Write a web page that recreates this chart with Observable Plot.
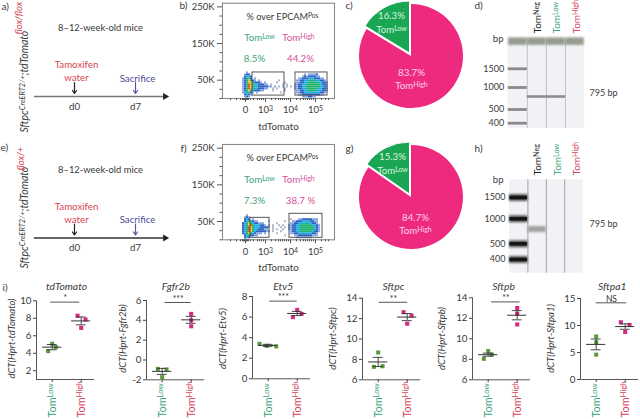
<!DOCTYPE html>
<html><head><meta charset="utf-8">
<script src="https://cdn.jsdelivr.net/npm/d3@7"></script>
<script src="https://cdn.jsdelivr.net/npm/@observablehq/plot@0.6"></script>
<style>
html,body{margin:0;padding:0;background:#fff}
#fig{position:relative;width:640px;height:419px;overflow:hidden}
#fig svg{position:absolute;overflow:visible;max-width:none}
</style></head><body><div id="fig"></div>
<script>
// ---------- data ----------
const panelLetters = ["a)","b)","c)","d)","e)","f)","g)","h)","i)"];
const days = [0, 7];
const dayLabels = ["d0", "d7"];
const flowMajorChannels = [23, 43, 68, 93];
const flowMajorLabels = ["0", "10^{3}", "10^{4}", "10^{5}"];
const flowMinorChannels = [8,14,18,20,21,22,24,25,26,28,31,35,37,39,41,49,53,56,58,60,62,64,66,74,78,81,83,85,87,89,91,99,103,106];
const flowGatesB = [{x1:30,x2:62,y1:8,y2:71},{x1:73,x2:105,y1:8,y2:71}];
const flowGatesF = [{x1:28,x2:47,y1:5.5,y2:60},{x1:67,x2:100,y1:5.5,y2:71}];
// Density, one character per 2px bin (. empty, 0 stray events, 1-6 blue to red)
const densityB = [
"............................."+".................",
"....1......................."+".................",
"...122......................"+".....1.11112.....",
"...2332....................."+"....121222211....",
"..12432.1..................."+"..1122233322211..",
"..1245421.1.........0......."+".112233344333221.",
"..1245542221.1.....0...0...."+".1122334444433221",
"..1246543322211.0.....0.0..."+"11223344444443221",
"..124654332222211.1.0.0.0.0."+"11223344444443321",
"..1246543322211..0.0...0...."+"11223344444433221",
"..12454322211....0.....0...."+".1122334444333221",
"..134321.1...........0......"+".112233333333221.",
"...2321....................."+"..1122222222211..",
"...121......................"+"....1112211......"
];
const densityF = [
".............................................",
"....1........................................",
"...121.......................................",
"...232.1..................0...1122222111......",
"...2343211.....0.......0...1122233332211......",
"..23454322111......0......11223333433221......",
"..234564333221.1.0..0.0..1122334444443321.....",
"..23465433322221.0...0.0.1122334444444321.....",
"..2346543322211..0.0..0..1122334444444321.....",
"..23465432222211.0...0....122334444443221.....",
"..2345432111.1.....0......11223333333221......",
"...2342211.............0....112222222111......",
"...232.......................11111111.........",
"...1........................................."
];
const pieSharesC = [16.3, 83.7];
const pieSharesG = [15.3, 84.7];
const gelLanes = [0, 1, 2, 3];
const ladderBp = [1500, 1000, 500, 400];
const sampleBp = [795];
const sampleLanesD = [1, 2];
const sampleLanesH = [1];
const genes = ["tdTomato","Fgfr2b","Etv5","Sftpc","Sftpb","Sftpa1"];
const lowValues  = [[5.09,4.7,4.24],[-0.9,-0.96,-1.73],[3.4,3.2,3.15],[8.68,7.27,7.33],[8.8,8.47,8.05],[7.96,6.9,4.6]];
const lowJitter  = [[0,.25,-.28],[-.3,.3,0],[-.6,-.1,.55],[0,-.3,.3],[0,.25,-.3],[0,0,0]];
const highValues = [[8.3,7.86,6.9],[4.65,4,3.4],[6.7,6.3,6],[12.63,12.3,11.5],[13,12.45,11.4],[10.6,10.1,8.8]];
const highJitter = [[-.25,.3,0],[0,0,0],[0,.3,-.3],[-.25,.3,0],[0,0,0],[-.3,.3,0]];
const lowMeans = [4.7,-1.15,3.25,7.75,8.45,6.5];
const lowErrs  = [.3,.3,.1,.45,.15,1];
const highMeans = [7.7,4.05,6.35,12.15,12.3,9.8];
const highErrs  = [.45,.35,.2,.35,.45,.5];
const sigLabels = ["*","***","***","**","**","NS"];
const sigLevels = [9.85,5.8,7.55,13.6,13.6,14.2];
const sigStart = [-.05,.1,.05,.03,.12,0];
const sigEnd = [.95,1,1,1.02,1.1,1.05];
const yTicks = [[2,4,6,8,10],[-2,0,2,4,6],[0,2,4,6,8],[6,8,10,12,14],[6,8,10,12,14],[0,5,10,15]];
const yDomains = [[1,10],[-2,6],[0,8],[6,14],[6,14],[0,15]];

// ---------- style and layout ----------
const FONT = "Lato, 'Open Sans', sans-serif";
const INK = "#3a3a3a", GREEN = "#3da67c", RED = "#d2455c", PINKTXT = "#d64f9b";
const fig = document.getElementById("fig");

function superscripts(svg) {
  svg.querySelectorAll("text, tspan").forEach(t => {
    if (t.children.length || !t.textContent.includes("^{")) return;
    const parts = t.textContent.split(/(\^\{[^}]*\})/);
    t.textContent = "";
    for (const p of parts) {
      if (!p) continue;
      const s = document.createElementNS("http://www.w3.org/2000/svg", "tspan");
      if (p.startsWith("^{")) {
        s.textContent = p.slice(2, -1);
        s.setAttribute("baseline-shift", "35%");
        s.setAttribute("font-size", "72%");
      } else s.textContent = p;
      t.appendChild(s);
    }
  });
}
// A panel: box in page pixels, frame inset inside it; note() places text by page pixels via the frame anchor.
function panel(box, options) {
  const svg = Plot.plot({
    width: box.w, height: box.h,
    marginLeft: box.ml || 0, marginTop: box.mt || 0, marginRight: box.mr || 0, marginBottom: box.mb || 0,
    style: {background: "transparent", fontFamily: FONT, fontSize: (box.fs || 9.5) + "px", color: INK},
    ...options
  });
  svg.style.left = box.x + "px"; svg.style.top = box.y + "px";
  superscripts(svg);
  fig.appendChild(svg);
}
function noter(box) {
  const fx = box.x + (box.ml || 0), fy = box.y + (box.mt || 0);
  return (text, px, py, o = {}) => Plot.text([text], {
    text: d => d, frameAnchor: "top-left", dx: px - fx, dy: py - fy,
    textAnchor: "middle", lineAnchor: "middle", fill: INK, fontSize: 9.7, ...o
  });
}

// ---------- panel letters ----------
const letterPos = [[1,6],[179,5],[345,5],[474,5],[0,147],[180,148],[345,148],[474,148],[2,287]];
{
  const box = {x:0,y:0,w:640,h:419};
  const note = noter(box);
  panel(box, {x:{axis:null,domain:[0,1]},y:{axis:null,domain:[0,1]},
    marks: panelLetters.map((l,i) => note(l, letterPos[i][0], letterPos[i][1], {textAnchor:"start", fontSize:10}))});
}

// ---------- schematics ----------
function schematic(o) {
  const box = {x:0, y:o.top, w:175, h:140};
  const note = noter(box);
  panel(box, {
    x:{axis:null,domain:[-8.49,11.59]},
    y:{axis:null,domain:[0,140],range:[0,140]},
    marks:[
      note("8–12-week-old mice",100,o.top+o.mice,{fontSize:9.4}),
      note("Tamoxifen",76,o.top+o.tam,{fill:"#d8454f"}),
      note("water",76,o.top+o.water,{fill:"#d8454f"}),
      note("Sacrifice",137,o.top+o.sac,{fill:"#4a4a9a"}),
      Plot.ruleY([o.line],{x1:-4.6,x2:10.3,stroke:o.lineColor,strokeWidth:1.3}),
      Plot.dot([o.line],{x:10.4,y:d=>d,symbol:"triangle",rotate:90,r:2.6,fill:"#222",stroke:"none"}),
      Plot.arrow(days,{x1:d=>d,x2:d=>d,y1:o.line-14,y2:o.line-3,stroke:(d,i)=>i?"#6b4fa0":"#222",bend:false,headLength:5,strokeWidth:1.2,headAngle:70}),
      Plot.text(days,{x:d=>d,y:o.line+10,text:(d,i)=>dayLabels[i],fill:INK,fontSize:9.7}),
      note(o.label,24,o.top+o.labelBottom,{rotate:-90,textAnchor:"start",fontStyle:"italic",fontSize:10.5}),
      note(o.flox,o.floxX,o.top+o.floxBottom,{rotate:-90,textAnchor:"start",fontStyle:"italic",fontSize:9.5,fill:"#d8454f"})
    ]
  });
}
schematic({top:0,mice:27,tam:64,water:77,sac:78,line:96,lineColor:"#777",label:"Sftpc^{CreERT2/+};tdTomato",labelBottom:132,flox:"flox/flox",floxX:18,floxBottom:34});
schematic({top:140,mice:29,tam:66,water:79,sac:79,line:97.5,lineColor:"#333",label:"Sftpc^{CreERT2/+};tdTomato",labelBottom:128,flox:"flox/+",floxX:20,floxBottom:30});

// ---------- flow cytometry ----------
const flowLevels = ["0","1","2","3","4","5","6"];
const flowColors = ["#aeb8ca","#86a8e0","#2f62c4","#1fb0d8","#1db36e","#e0c62e","#e8481f"];
function densityCells(rows, topK) {
  const cells = [];
  rows.forEach((row, r) => [...row].forEach((ch, c) => {
    if (ch !== ".") cells.push({x1:16+2*c, x2:18+2*c, y1:topK-5.47*(r+1), y2:topK-5.47*r, level:ch});
  }));
  return cells;
}
function flow(o) {
  const box = {x:178,y:o.top,w:162,h:138,ml:44,mt:o.mt,mr:6,mb:138-o.mt-95.3};
  const note = noter(box);
  panel(box, {
    x:{axis:null,domain:[0,112]},
    y:{axis:null,domain:[0,260]},
    color:{type:"ordinal",domain:flowLevels,range:flowColors},
    marks:[
      Plot.rect(densityCells(o.rows,o.topK),{x1:"x1",x2:"x2",y1:"y1",y2:"y2",fill:"level",imageFilter:"blur(0.45px)"}),
      Plot.rect(o.gates,{x1:"x1",x2:"x2",y1:"y1",y2:"y2",fill:"none",stroke:"#444",strokeWidth:.9}),
      Plot.frame({stroke:"#8a8a8a",strokeWidth:1.1}),
      Plot.axisY({ticks:[250,150,50],tickSize:5,tickPadding:3,tickFormat:d=>d+"K",label:null,stroke:"#555"}),
      Plot.axisY({ticks:[200,100,0,225,175,125,75,25],tickSize:2.5,tickFormat:()=>"",label:null,stroke:"#555"}),
      Plot.axisX({ticks:flowMajorChannels,tickSize:4,tickPadding:4,tickFormat:(d,i)=>flowMajorLabels[flowMajorChannels.indexOf(d)],label:null,stroke:"#555"}),
      Plot.axisX({ticks:flowMinorChannels,tickSize:2,tickFormat:()=>"",label:null,stroke:"#555"}),
      note("% over EPCAM^{Pos}",282,o.top+o.titleY,{fontSize:9.2}),
      note("Tom^{Low}",259,o.top+o.tomY,{fill:GREEN}),
      note("Tom^{High}",298,o.top+o.tomY,{fill:PINKTXT}),
      note(o.lowPct,254,o.top+o.pctY,{fill:GREEN}),
      note(o.highPct,300,o.top+o.pctY,{fill:PINKTXT}),
      note("tdTomato",278,o.top+o.xlabY)
    ]
  });
}
flow({top:0,mt:2.7,rows:densityB,topK:78,gates:flowGatesB,titleY:17,tomY:37,pctY:58,xlabY:126,lowPct:"8.5%",highPct:"44.2%"});
flow({top:140,mt:4,rows:densityF,topK:73.9,gates:flowGatesF,titleY:18,tomY:39,pctY:60,xlabY:127,lowPct:"7.3%",highPct:"38.7 %"});

// ---------- pies ----------
function pieMark(shares) {
  return (index, scales, values, dim) => {
    const g = d3.create("svg:g");
    const start = -shares[0] / 100 * 2 * Math.PI;
    const arcs = d3.pie().sort(null).startAngle(start).endAngle(start + 2 * Math.PI)(shares);
    const arc = d3.arc().innerRadius(0).outerRadius(52);
    const cx = dim.marginLeft + 61, cy = dim.marginTop + 56;
    g.append("path").attr("d", arc(arcs[1])).attr("transform", `translate(${cx},${cy})`).attr("fill", "#ee2a7f");
    g.append("path").attr("d", arc(arcs[0])).attr("transform", `translate(${cx-1.5},${cy-3})`).attr("fill", "#1aa653").attr("stroke","#fff").attr("stroke-width",1);
    return g.node();
  };
}
function pie(o) {
  const box = {x:350,y:o.top,w:125,h:118};
  const note = noter(box);
  panel(box, {
    x:{axis:null,domain:[0,1]},y:{axis:null,domain:[0,1]},
    marks:[
      pieMark(o.shares),
      note(o.lowPct,o.lx,o.top+o.ly1,{fill:"#d9f2df"}),
      note("Tom^{Low}",o.lx,o.top+o.ly2,{fill:"#d9f2df"}),
      note(o.highPct,o.hx,o.top+o.hy1,{fill:"#fdd3e6"}),
      note("Tom^{High}",o.hx,o.top+o.hy2,{fill:"#fdd3e6"})
    ]
  });
}
pie({top:0,shares:pieSharesC,lowPct:"16.3%",highPct:"83.7%",lx:391,ly1:15.7,ly2:29,hx:411,hy1:72.7,hy2:85.7});
pie({top:141,shares:pieSharesG,lowPct:"15.3%",highPct:"84.7%",lx:392,ly1:15.7,ly2:29,hx:415,hy1:76,hy2:89});

// ---------- gels ----------
function gel(o) {
  const box = {x:476,y:o.top,w:150,h:o.h,ml:o.left-476,mt:0,mr:150-(o.left-476)-o.laneW*4,mb:0,fs:9};
  const note = noter(box);
  const lanes = gelLanes.map(l => ({l}));
  panel(box, {
    x:{axis:null,domain:[0,4]},
    y:{type:"linear",domain:o.bpDomain,range:o.bpRange.map(v=>v-o.top)},
    marks:[
      Plot.rect(lanes,{x1:"l",x2:d=>d.l+1,y1:o.bpDomain[0],y2:o.bpDomain[o.bpDomain.length-1],fill:"#f1f2f5",stroke:"none"}),
      Plot.ruleX([1,2,3],{y1:o.bpDomain[0],y2:o.bpDomain[o.bpDomain.length-1],stroke:o.sep,strokeWidth:.8}),
      ...(o.well?[Plot.ruleY(lanes,{y:o.well,x1:d=>d.l+.02,x2:d=>d.l+.98,stroke:"#959b8d",strokeWidth:7.5,imageFilter:"blur(0.8px)"})]:[]),
      Plot.ruleY(ladderBp,{x1:0,x2:1,stroke:o.ladder,strokeWidth:o.bandW,imageFilter:o.blur}),
      ...(o.core?[Plot.ruleY(ladderBp,{x1:0.02,x2:.98,stroke:"#151515",strokeWidth:3.5,imageFilter:"blur(0.6px)"})]:[]),
      ...o.sampleLanes.flatMap(l=>Plot.ruleY(sampleBp,{x1:l,x2:l+1,stroke:o.sampleColor,strokeWidth:o.sampleW,imageFilter:o.blur})),
      Plot.axisY({ticks:ladderBp,tickSize:0,tickPadding:4,tickFormat:d=>String(d),label:null}),
      note("bp",503,o.bpY,{textAnchor:"end",fontSize:9.5}),
      note("795 bp",589,o.labelY,{textAnchor:"start",fontSize:9}),
      note("Tom^{Neg}",o.headers[0],o.headBottom,{rotate:-90,textAnchor:"start",fontSize:10,fill:"#222"}),
      note("Tom^{Low}",o.headers[1],o.headBottom,{rotate:-90,textAnchor:"start",fontSize:10,fill:GREEN}),
      note("Tom^{High}",o.headers[2],o.headBottom,{rotate:-90,textAnchor:"start",fontSize:10,fill:RED})
    ]
  });
}
gel({top:0,h:135,left:507.7,laneW:19.1,bpDomain:[2300,1500,1000,500,400,361],bpRange:[38,68.3,87,109,122.7,128],
  well:2230,ladder:"#8a8a8a",bandW:2.8,blur:"blur(0.5px)",sep:"#b5b5b5",sampleLanes:sampleLanesD,sampleColor:"#8e8e8e",sampleW:2.6,
  bpY:38,labelY:93,headers:[537,556,576],headBottom:33});
gel({top:140,h:135,left:509,laneW:18.4,bpDomain:[1900,1500,1000,500,400,330],bpRange:[179.3,197,218.3,243.3,259,272.7],
  ladder:"#555",bandW:7,core:true,blur:"blur(0.8px)",sep:"#8c8c8c",sampleLanes:sampleLanesH,sampleColor:"#a2a2a2",sampleW:6,
  bpY:179,labelY:224,headers:[537,557,576],headBottom:175});

// ---------- qPCR scatter panels ----------
const axisLefts = [36,145.7,252.3,361.7,471.7,580];
const yTopPx = [300.3,300,296,297.7,297.3,298];
const yBotPx = [379,379.3,378.3,379.3,379.3,379];
const yLabelX = [11,121.7,223,331.7,440.7,550];
const titleX = [66,175,283,392.7,502.7,611.7];
const catPitch = 29, catFirst = 15.7;
genes.forEach((gene,i) => {
  const ml = 26, box = {x:axisLefts[i]-ml,y:280,w:ml+60,h:139,ml,mt:yTopPx[i]-280,mr:2,mb:419-yBotPx[i],fs:9.8};
  const note = noter(box);
  const px = c => axisLefts[i]+catFirst+c*catPitch;
  const pts = [
    ...lowValues[i].map((v,k)=>({x:lowJitter[i][k]*.5,v,group:0})),
    ...highValues[i].map((v,k)=>({x:1+highJitter[i][k]*.5,v,group:1}))
  ];
  const stats = [
    {c:0,m:lowMeans[i],e:lowErrs[i]},
    {c:1,m:highMeans[i],e:highErrs[i]}
  ];
  panel(box, {
    x:{axis:null,domain:[-catFirst/catPitch,(58-catFirst)/catPitch]},
    y:{axis:null,domain:yDomains[i]},
    marks:[
      Plot.ruleX([-catFirst/catPitch],{stroke:"#444",strokeWidth:.9}),
      Plot.ruleY([yDomains[i][0]],{stroke:"#444",strokeWidth:.9}),
      Plot.axisY({ticks:yTicks[i],tickSize:3,tickPadding:2,tickFormat:d=>String(d),label:null,stroke:"#444"}),
      Plot.axisX({ticks:[0,1],tickSize:3,tickFormat:()=>"",label:null,stroke:"#444"}),
      Plot.dot(pts,{x:"x",y:"v",symbol:"square",r:2.3,fill:d=>d.group?"#d62a80":"#5c9a3f",stroke:"none"}),
      Plot.ruleY(stats,{y:"m",x1:d=>d.c-.33,x2:d=>d.c+.33,stroke:"#333",strokeWidth:1}),
      Plot.ruleX(stats,{x:"c",y1:d=>d.m-d.e,y2:d=>d.m+d.e,stroke:"#333",strokeWidth:.9}),
      Plot.ruleY(stats,{y:d=>d.m+d.e,x1:d=>d.c-.17,x2:d=>d.c+.17,stroke:"#333",strokeWidth:.9}),
      Plot.ruleY(stats,{y:d=>d.m-d.e,x1:d=>d.c-.17,x2:d=>d.c+.17,stroke:"#333",strokeWidth:.9}),
      Plot.ruleY([sigLevels[i]],{x1:sigStart[i],x2:sigEnd[i],stroke:"#555",strokeWidth:1}),
      Plot.text([sigLabels[i]],{text:d=>d,x:(sigStart[i]+sigEnd[i])/2,y:sigLevels[i],dy:-3.5,fontSize:8.5,fill:"#333"}),
      note(gene,titleX[i],286,{fontStyle:"italic",fontSize:10.3}),
      note(`dCT(Hprt-${gene})`,yLabelX[i],338,{rotate:-90,fontStyle:"italic",fontSize:9.5}),
      note("Tom^{Low}",px(0),417,{rotate:-90,textAnchor:"start",fontSize:10.8,fill:GREEN}),
      note("Tom^{High}",px(1),417,{rotate:-90,textAnchor:"start",fontSize:10.8,fill:RED})
    ]
  });
});
</script></body></html>
